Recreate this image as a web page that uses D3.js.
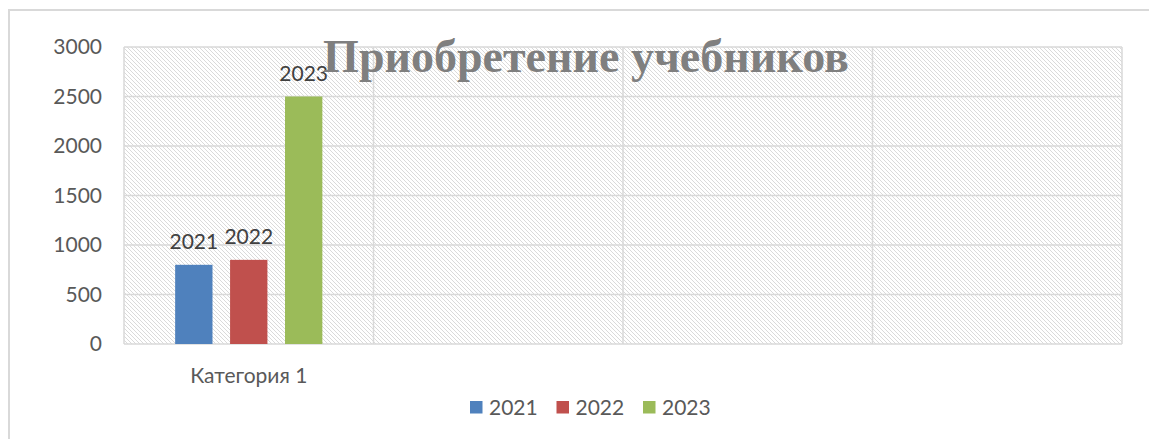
<!DOCTYPE html>
<html>
<head>
<meta charset="utf-8">
<script src="https://cdn.jsdelivr.net/npm/d3@7"></script>
<style>
  body { margin: 0; background: #fff; }
  svg text { font-family: Lato, "Open Sans", sans-serif; }
</style>
</head>
<body>
<div id="chart"></div>
<script>
// data
const categories = ["Категория 1", "", "", ""];
const seriesNames = ["2021", "2022", "2023"];
const values2021 = [800, null, null, null];
const values2022 = [850, null, null, null];
const values2023 = [2500, null, null, null];
const yTicks = [0, 500, 1000, 1500, 2000, 2500, 3000];
const title = "Приобретение учебников";

const colors = ["#4f81bd", "#c0504d", "#9bbb59"];

const width = 1149, height = 439;
const margin = { top: 47, right: 27, bottom: 95, left: 124 };

const svg = d3.select("#chart").append("svg")
  .attr("width", width)
  .attr("height", height);

// outer chart frame
svg.append("rect")
  .attr("x", 9).attr("y", 10)
  .attr("width", width + 20).attr("height", height + 20)
  .attr("fill", "none")
  .attr("stroke", "#d9d9d9")
  .attr("stroke-width", 2);

// hatch pattern for plot area
const defs = svg.append("defs");
const pat = defs.append("pattern")
  .attr("id", "hatch")
  .attr("patternUnits", "userSpaceOnUse")
  .attr("width", 4).attr("height", 4);
pat.append("rect").attr("width", 4).attr("height", 4).attr("fill", "#fff");
pat.append("path")
  .attr("d", "M-1,-1 L5,5 M3,-1 L5,1 M-1,3 L1,5")
  .attr("stroke", "#dadada")
  .attr("stroke-width", 1);

const x0 = d3.scaleBand()
  .domain(d3.range(categories.length))
  .range([margin.left, width - margin.right]);

const x1 = d3.scaleBand()
  .domain(seriesNames)
  .range([x0.bandwidth() * 0.205, x0.bandwidth() * 0.795])
  .paddingInner(0.32);

const y = d3.scaleLinear()
  .domain([0, 3000])
  .range([height - margin.bottom, margin.top]);

// plot area
svg.append("rect")
  .attr("x", x0.range()[0])
  .attr("y", y(3000))
  .attr("width", x0.range()[1] - x0.range()[0])
  .attr("height", y(0) - y(3000))
  .attr("fill", "url(#hatch)");

// horizontal gridlines
svg.append("g")
  .selectAll("line")
  .data(yTicks)
  .join("line")
  .attr("x1", x0.range()[0]).attr("x2", x0.range()[1])
  .attr("y1", d => y(d)).attr("y2", d => y(d))
  .attr("stroke", "#d9d9d9")
  .attr("stroke-width", 1.5);

// vertical gridlines at category boundaries
const bounds = d3.range(categories.length + 1).map(i => x0.range()[0] + i * x0.step());
svg.append("g")
  .selectAll("line")
  .data(bounds)
  .join("line")
  .attr("x1", d => d).attr("x2", d => d)
  .attr("y1", y(3000)).attr("y2", y(0))
  .attr("stroke", "#d9d9d9")
  .attr("stroke-width", 1.5);

// y axis
const yAxis = d3.axisLeft(y).tickValues(yTicks).tickFormat(d3.format("d")).tickSize(0).tickPadding(22);
svg.append("g")
  .attr("transform", `translate(${margin.left},0)`)
  .call(yAxis)
  .call(g => g.select(".domain").remove())
  .selectAll("text")
  .attr("font-size", 21)
  .attr("fill", "#595959")
  .style("font-family", "Lato, sans-serif");

// x axis (category labels)
const xAxis = d3.axisBottom(x0).tickFormat(i => categories[i]).tickSize(0).tickPadding(24);
svg.append("g")
  .attr("transform", `translate(0,${y(0)})`)
  .call(xAxis)
  .call(g => g.select(".domain").remove())
  .selectAll("text")
  .attr("font-size", 21)
  .attr("fill", "#595959")
  .style("font-family", "Lato, sans-serif");

// bars
const allSeries = [values2021, values2022, values2023];
const barData = [];
categories.forEach((c, i) => {
  seriesNames.forEach((s, j) => {
    if (allSeries[j][i] != null) barData.push({ cat: i, series: s, value: allSeries[j][i], color: colors[j] });
  });
});

const bars = svg.append("g")
  .selectAll("g")
  .data(barData)
  .join("g")
  .attr("transform", d => `translate(${x0(d.cat)},0)`);

bars.append("rect")
  .attr("x", d => x1(d.series))
  .attr("y", d => y(d.value))
  .attr("width", x1.bandwidth())
  .attr("height", d => y(0) - y(d.value))
  .attr("fill", d => d.color);

// data labels show series name
bars.append("text")
  .attr("x", d => x1(d.series) + x1.bandwidth() / 2)
  .attr("y", d => y(d.value) - 16)
  .attr("text-anchor", "middle")
  .attr("font-size", 21)
  .attr("fill", "#404040")
  .text(d => d.series);

// title
svg.append("text")
  .attr("x", 586)
  .attr("y", 72)
  .attr("text-anchor", "middle")
  .attr("font-size", 46)
  .attr("font-weight", "bold")
  .attr("fill", "#7f7f7f")
  .style("font-family", "'Liberation Serif', 'DejaVu Serif', serif")
  .text(title);

// legend
const legend = svg.append("g").attr("transform", "translate(470,0)");
const legendX = d3.scalePoint().domain(seriesNames).range([0, 173]);
const li = legend.selectAll("g")
  .data(seriesNames)
  .join("g")
  .attr("transform", d => `translate(${legendX(d)},0)`);
li.append("rect")
  .attr("x", 0).attr("y", 401)
  .attr("width", 12.5).attr("height", 12.5)
  .attr("fill", (d, i) => colors[i]);
li.append("text")
  .attr("x", 19).attr("y", 415)
  .attr("font-size", 21)
  .attr("fill", "#595959")
  .text(d => d);
</script>
</body>
</html>
